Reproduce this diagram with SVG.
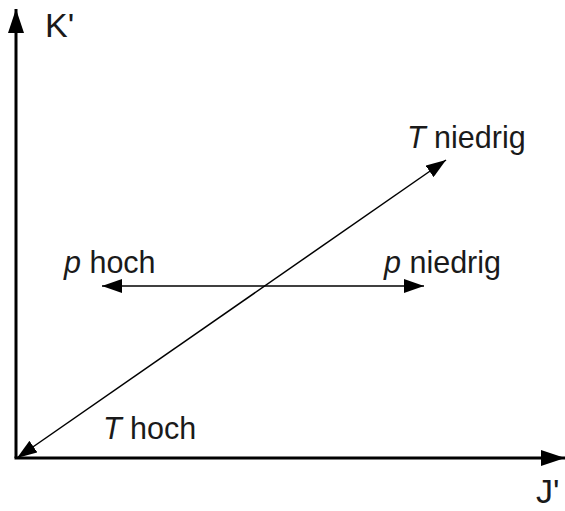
<svg xmlns="http://www.w3.org/2000/svg" width="565" height="511" viewBox="0 0 565 511">
<style>
text{font-family:"Liberation Sans",Arial,sans-serif;font-size:30.5px;fill:#1a1a1a}
.ax{font-size:34px}
.axis{stroke:#000;stroke-width:3;fill:none}
.conn{stroke:#000;stroke-width:1.5;fill:none}
</style>
<defs>
<marker id="ah" markerUnits="userSpaceOnUse" markerWidth="20" markerHeight="14" refX="20" refY="7" orient="auto-start-reverse">
<path d="M0,0 L20,7 L0,14 Z" fill="#000"/>
</marker>
<marker id="axh" markerUnits="userSpaceOnUse" markerWidth="24" markerHeight="16" refX="24" refY="8" orient="auto">
<path d="M0,0 L24,8 L0,16 Z" fill="#000"/>
</marker>
</defs>
<g id="axes">
<line class="axis" x1="16" y1="458" x2="16" y2="9" marker-end="url(#axh)"/>
<line class="axis" x1="14.5" y1="458" x2="565" y2="458" marker-end="url(#axh)"/>
</g>
<g id="connectors">
<line class="conn" x1="17" y1="458" x2="446" y2="160" marker-start="url(#ah)" marker-end="url(#ah)"/>
<line class="conn" x1="102" y1="286" x2="424" y2="286" marker-start="url(#ah)" marker-end="url(#ah)"/>
</g>
<g id="labels">
<text class="ax" x="45" y="37">K'</text>
<text class="ax" x="536" y="503" font-size="32">J'</text>
<text x="407" y="148"><tspan font-style="italic">T</tspan> niedrig</text>
<text x="64" y="273"><tspan font-style="italic">p</tspan> hoch</text>
<text x="384" y="273"><tspan font-style="italic">p</tspan> niedrig</text>
<text x="103" y="439"><tspan font-style="italic">T</tspan> hoch</text>
</g>
</svg>
